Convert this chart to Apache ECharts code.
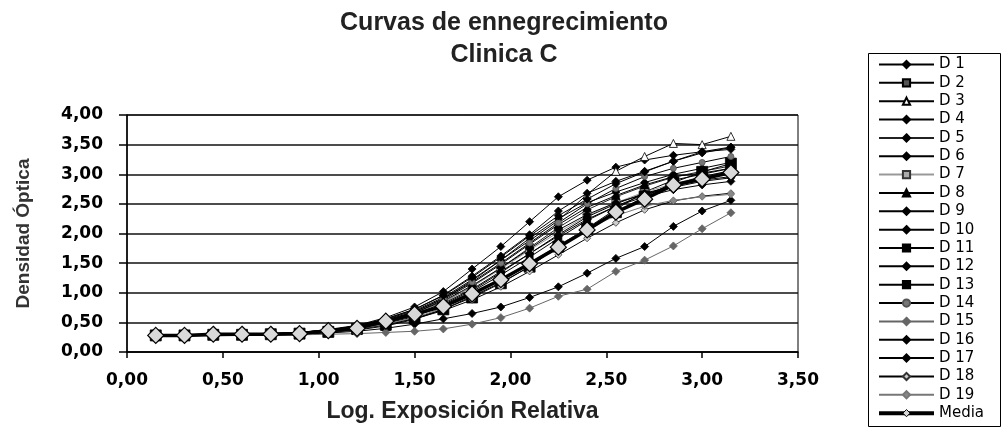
<!DOCTYPE html>
<html>
<head>
<meta charset="utf-8">
<script src="https://cdn.jsdelivr.net/npm/echarts@6/dist/echarts.min.js"></script>
<style>html,body{margin:0;padding:0;background:#fff}#c{width:1003px;height:428px}</style>
</head>
<body>
<div id="c"></div>
<script>
const logE = [0.15,0.30,0.45,0.60,0.75,0.90,1.05,1.20,1.35,1.50,1.65,1.80,1.95,2.10,2.25,2.40,2.55,2.70,2.85,3.00,3.15];
const xTicks = [0,0.5,1,1.5,2,2.5,3,3.5];
const yTicks = [0,0.5,1,1.5,2,2.5,3,3.5,4];

const D1  = [0.29,0.29,0.30,0.31,0.31,0.33,0.38,0.45,0.58,0.76,1.02,1.40,1.78,2.20,2.62,2.90,3.12,3.24,3.32,3.38,3.46];
const D2  = [0.28,0.28,0.29,0.29,0.30,0.31,0.33,0.37,0.44,0.55,0.72,0.94,1.17,1.44,1.79,2.09,2.41,2.70,2.90,3.00,3.10];
const D3  = [0.28,0.28,0.29,0.30,0.30,0.32,0.35,0.42,0.52,0.68,0.90,1.20,1.55,1.88,2.22,2.66,3.05,3.30,3.52,3.50,3.64];
const D4  = [0.29,0.29,0.30,0.30,0.31,0.33,0.37,0.44,0.56,0.72,0.96,1.28,1.62,1.98,2.38,2.68,2.88,3.05,3.22,3.36,3.45];
const D5  = [0.28,0.28,0.29,0.29,0.30,0.31,0.35,0.41,0.50,0.64,0.84,1.10,1.42,1.76,2.10,2.40,2.62,2.80,2.95,3.05,3.14];
const D6  = [0.29,0.29,0.30,0.30,0.31,0.33,0.37,0.44,0.55,0.70,0.92,1.22,1.55,1.92,2.25,2.52,2.70,2.86,3.00,3.10,3.20];
const D7  = [0.28,0.28,0.29,0.30,0.30,0.32,0.35,0.41,0.50,0.64,0.84,1.10,1.40,1.72,2.02,2.30,2.52,2.70,2.84,2.96,3.06];
const D8  = [0.28,0.28,0.29,0.29,0.30,0.32,0.35,0.42,0.52,0.66,0.88,1.16,1.48,1.82,2.15,2.44,2.64,2.82,2.96,3.02,3.10];
const D9  = [0.28,0.29,0.29,0.30,0.30,0.32,0.36,0.42,0.52,0.66,0.86,1.12,1.42,1.74,2.06,2.32,2.52,2.66,2.78,2.88,2.94];
const D10 = [0.29,0.29,0.30,0.30,0.31,0.32,0.36,0.42,0.51,0.64,0.82,1.06,1.36,1.66,1.96,2.24,2.46,2.62,2.74,2.82,2.88];
const D11 = [0.28,0.28,0.29,0.29,0.30,0.31,0.34,0.40,0.48,0.60,0.78,1.02,1.30,1.60,1.92,2.22,2.46,2.66,2.82,2.96,3.06];
const D12 = [0.27,0.27,0.28,0.28,0.29,0.30,0.32,0.35,0.40,0.47,0.56,0.65,0.76,0.92,1.10,1.33,1.58,1.78,2.12,2.38,2.56];
const D13 = [0.28,0.28,0.29,0.29,0.30,0.31,0.34,0.39,0.46,0.57,0.72,0.92,1.16,1.44,1.78,2.08,2.36,2.62,2.86,3.04,3.18];
const D14 = [0.29,0.29,0.30,0.30,0.31,0.33,0.37,0.43,0.54,0.68,0.90,1.18,1.50,1.84,2.18,2.50,2.76,2.96,3.10,3.20,3.30];
const D15 = [0.27,0.27,0.27,0.28,0.28,0.29,0.30,0.31,0.33,0.35,0.39,0.47,0.58,0.74,0.94,1.06,1.36,1.55,1.79,2.08,2.35];
const D16 = [0.28,0.28,0.29,0.29,0.30,0.31,0.34,0.40,0.49,0.62,0.80,1.04,1.34,1.66,1.98,2.28,2.50,2.68,2.80,2.90,2.96];
const D17 = [0.29,0.29,0.30,0.30,0.31,0.33,0.37,0.44,0.56,0.72,0.95,1.26,1.60,1.96,2.30,2.58,2.84,3.04,3.22,3.38,3.42];
const D18 = [0.28,0.28,0.29,0.29,0.30,0.31,0.34,0.38,0.46,0.56,0.70,0.88,1.10,1.36,1.64,1.92,2.18,2.40,2.55,2.63,2.68];
const D19 = [0.28,0.28,0.29,0.29,0.30,0.31,0.34,0.39,0.47,0.58,0.74,0.96,1.22,1.50,1.80,2.08,2.30,2.46,2.56,2.62,2.66];
const Media = [0.28,0.28,0.30,0.30,0.30,0.31,0.36,0.40,0.52,0.64,0.77,0.98,1.22,1.49,1.77,2.06,2.36,2.58,2.82,2.92,3.03];

const names = ['D 1','D 2','D 3','D 4','D 5','D 6','D 7','D 8','D 9','D 10','D 11','D 12','D 13','D 14','D 15','D 16','D 17','D 18','D 19','Media'];
const values = [D1,D2,D3,D4,D5,D6,D7,D8,D9,D10,D11,D12,D13,D14,D15,D16,D17,D18,D19,Media];

// style per series: [lineColor, symbol, size, fill, border]
const styles = [
  ['#000','diamond',8,'#000','#000'],
  ['#000','rect',9,'#555','#000'],
  ['#000','triangle',8,'#fff','#000'],
  ['#000','diamond',8,'#000','#000'],
  ['#222','diamond',8,'#000','#000'],
  ['#000','diamond',8,'#000','#000'],
  ['#999','rect',8,'#aaa','#333'],
  ['#000','triangle',8,'#000','#000'],
  ['#000','diamond',8,'#000','#000'],
  ['#000','diamond',8,'#000','#000'],
  ['#000','rect',7,'#000','#000'],
  ['#000','diamond',8,'#000','#000'],
  ['#000','rect',11,'#000','#000'],
  ['#000','circle',6,'#777','#555'],
  ['#666','diamond',8,'#666','#666'],
  ['#000','diamond',8,'#000','#000'],
  ['#000','diamond',8,'#000','#000'],
  ['#000','diamond',7,'#ccc','#333'],
  ['#777','diamond',7,'#888','#777'],
  ['#000','diamond',16,'#d9d9d9','#000']
];

const series = names.map((n,i)=>{
  const s = styles[i];
  const isMedia = n==='Media';
  return {
    name: n, type: 'line',
    data: logE.map((x,j)=>[x, values[i][j]]),
    symbol: s[1], symbolSize: s[2],
    lineStyle: {color: s[0], width: isMedia ? 3.5 : 1},
    itemStyle: {color: s[3], borderColor: s[4], borderWidth: isMedia ? 1.2 : 0.8},
    z: isMedia ? 5 : 2,
    animation: false
  };
});

const legendData = names.map(n => n === 'Media'
  ? {name: n, lineStyle: {width: 4, color: '#000'}, itemStyle: {color: '#d9d9d9', borderColor: '#000', borderWidth: 1}}
  : {name: n});

const chart = echarts.init(document.getElementById('c'));
chart.setOption({
  backgroundColor: '#fff',
  animation: false,
  title: {
    text: 'Curvas de ennegrecimiento\nClinica C',
    left: 499, top: 2, textAlign: 'center',
    textStyle: {fontFamily: 'Liberation Sans', fontWeight: 'bold', fontSize: 25, lineHeight: 32, color: '#222'}
  },
  grid: {left: 127, right: 205, top: 115, bottom: 66, show: true, borderColor: '#000', borderWidth: 1},
  xAxis: {
    type: 'value', min: 0, max: 3.5, interval: 0.5,
    name: 'Log. Exposición Relativa', nameLocation: 'middle', nameGap: 48,
    nameTextStyle: {fontFamily: 'Liberation Sans', fontWeight: 'bold', fontSize: 23, color: '#222'},
    axisLine: {lineStyle: {color: '#000', width: 1.5}},
    axisTick: {show: true, inside: false, length: 6, lineStyle: {color: '#000', width: 1.5}},
    splitLine: {show: false},
    axisLabel: {margin: 20, fontFamily: 'DejaVu Sans', fontWeight: 'bold', fontSize: 17, color: '#000',
      formatter: v => v.toFixed(2).replace('.', ',')}
  },
  yAxis: {
    type: 'value', min: 0, max: 4, interval: 0.5,
    name: 'Densidad Óptica', nameLocation: 'middle', nameGap: 94, nameRotate: 90,
    nameTextStyle: {fontFamily: 'Liberation Sans', fontWeight: 'bold', fontSize: 19, color: '#333'},
    axisLine: {lineStyle: {color: '#000', width: 1.5}},
    axisTick: {show: true, inside: false, length: 8, lineStyle: {color: '#000', width: 1.5}},
    splitLine: {show: true, lineStyle: {color: '#111', width: 1.5}},
    axisLabel: {margin: 24, fontFamily: 'DejaVu Sans', fontWeight: 'bold', fontSize: 17, color: '#000',
      formatter: v => v.toFixed(2).replace('.', ',')}
  },
  legend: {
    orient: 'vertical', left: 877, top: 57, padding: 0,
    itemWidth: 55, itemHeight: 9, itemGap: 3.35,
    textStyle: {fontFamily: 'DejaVu Sans', fontSize: 15, color: '#000'},
    data: legendData
  },
  graphic: [{
    type: 'rect', shape: {x: 868.5, y: 53.5, width: 132, height: 373},
    style: {fill: 'none', stroke: '#000', lineWidth: 1}, z: 0
  }],
  series: series
});
</script>
</body>
</html>
